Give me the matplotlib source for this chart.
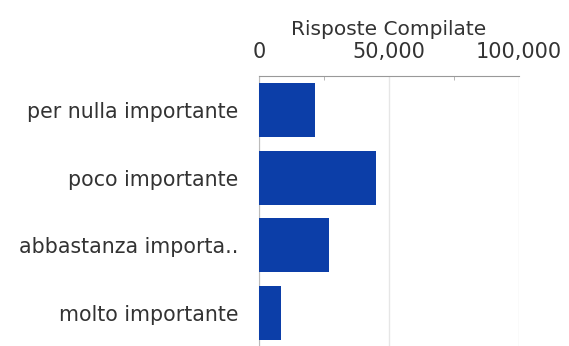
import matplotlib.pyplot as plt
from matplotlib.ticker import FuncFormatter, MultipleLocator

categories = ["per nulla importante", "poco importante",
              "abbastanza importa..", "molto importante"]
risposte = [21500, 45000, 27000, 8500]
x_ticks = [0, 50000, 100000]

W, H = 569, 346
fig = plt.figure(figsize=(W / 100, H / 100), dpi=100)
# axes box in pixels: left 259, right 519, top 76, bottom ~347
ax = fig.add_axes([259 / W, -1 / H, 260 / W, 271 / H])

ax.barh(range(len(categories)), risposte, height=0.8, color="#0c3ea8", zorder=3)

ax.set_xlim(0, 100000)
ax.set_ylim(len(categories) - 0.5, -0.5)
ax.set_yticks(range(len(categories)))
ax.set_yticklabels(categories, fontsize=14.8, color="#333333")

ax.xaxis.tick_top()
ax.xaxis.set_label_position("top")
ax.set_xticks(x_ticks)
ax.xaxis.set_minor_locator(MultipleLocator(25000))
ax.xaxis.set_major_formatter(FuncFormatter(lambda v, p: f"{int(v):,}"))
ax.tick_params(axis="x", which="major", length=0, pad=10, labelsize=15, labelcolor="#333333")
ax.tick_params(axis="x", which="minor", direction="in", length=3, color="#aaaaaa")
ax.tick_params(axis="y", length=0, pad=15)
ax.set_xlabel("Risposte Compilate", fontsize=14.5, color="#333333", labelpad=5)

ax.grid(axis="x", which="major", color="#e6e6e6", linewidth=1, zorder=0)
for s in ["right", "bottom"]:
    ax.spines[s].set_visible(False)
ax.spines["top"].set_color("#999999")
ax.spines["left"].set_color("#bbbbbb")

fig.savefig("out.png", dpi=100)
